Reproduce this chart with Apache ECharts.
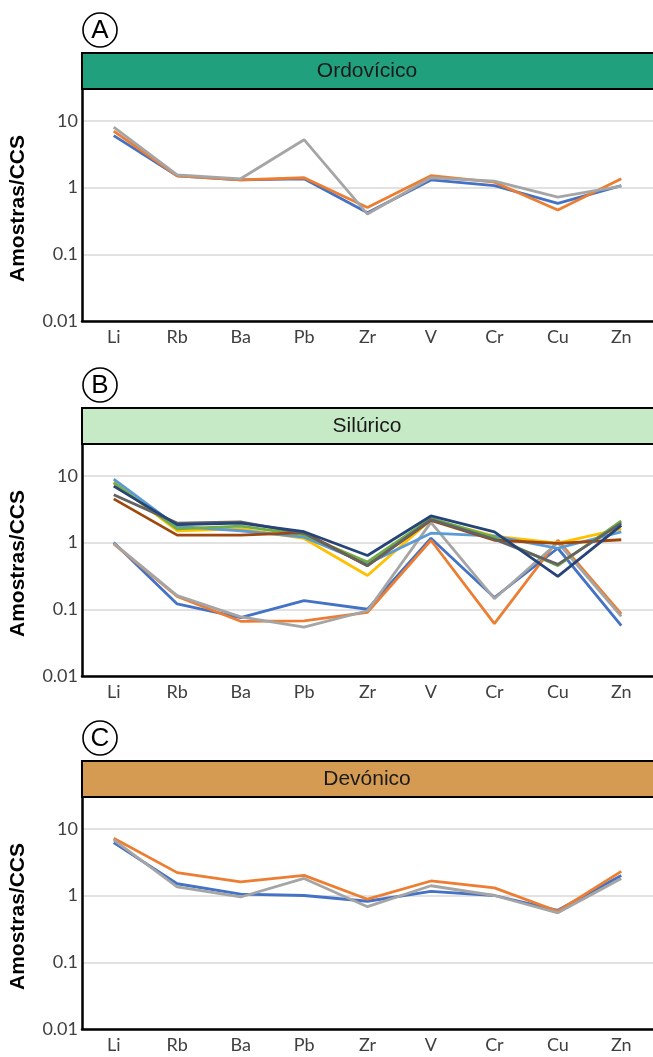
<!DOCTYPE html>
<html>
<head>
<meta charset="utf-8">
<script src="https://cdn.jsdelivr.net/npm/echarts@6/dist/echarts.min.js"></script>
<style>html,body{margin:0;padding:0;background:#fff}#c{width:653px;height:1057px}</style>
</head>
<body>
<div id="c"></div>
<script>
// ---- data ----
const categories = ['Li','Rb','Ba','Pb','Zr','V','Cr','Cu','Zn'];
const yTickLabels = ['0.01','0.1','1','10'];
const panelLetters = ['A','B','C'];
const panelTitles = ['Ordovícico','Silúrico','Devónico'];
const yTitle = 'Amostras/CCS';

// Ordovícico
const ordBlue   = [6.0, 1.5, 1.3, 1.35, 0.42, 1.3, 1.07, 0.58, 1.07];
const ordOrange = [7.0, 1.5, 1.3, 1.4, 0.5, 1.5, 1.2, 0.46, 1.35];
const ordGrey   = [8.0, 1.55, 1.35, 5.2, 0.4, 1.4, 1.25, 0.72, 1.05];

// Silúrico
const silBlue      = [1.0, 0.12, 0.075, 0.135, 0.1, 1.16, 0.15, 0.82, 0.057];
const silOrange    = [0.95, 0.155, 0.066, 0.067, 0.09, 1.08, 0.061, 1.08, 0.085];
const silGrey      = [0.97, 0.16, 0.077, 0.054, 0.095, 2.0, 0.144, 1.0, 0.078];
const silGold      = [8.0, 1.5, 1.6, 1.15, 0.32, 2.2, 1.25, 0.98, 1.6];
const silLightBlue = [8.9, 1.75, 1.5, 1.2, 0.48, 1.38, 1.25, 0.82, 1.44];
const silGreen     = [7.8, 1.6, 1.76, 1.3, 0.51, 2.3, 1.2, 0.45, 2.1];
const silNavy      = [7.0, 1.85, 1.95, 1.45, 0.64, 2.5, 1.44, 0.31, 1.8];
const silBrown     = [4.5, 1.29, 1.29, 1.41, 0.45, 2.15, 1.08, 0.97, 1.1];
const silDarkGrey  = [5.2, 1.95, 2.04, 1.37, 0.45, 2.2, 1.12, 0.47, 1.95];

// Devónico
const devBlue   = [6.2, 1.5, 1.05, 1.0, 0.82, 1.15, 1.0, 0.6, 2.0];
const devOrange = [7.2, 2.2, 1.6, 2.0, 0.88, 1.65, 1.3, 0.58, 2.3];
const devGrey   = [6.8, 1.35, 0.95, 1.8, 0.68, 1.4, 1.0, 0.55, 1.8];

// ---- styling ----
const C = {blue:'#4472C4', orange:'#ED7D31', grey:'#A5A5A5', gold:'#FFC000', lightBlue:'#5B9BD5',
           green:'#70AD47', navy:'#264478', brown:'#9E480E', darkGrey:'#636363'};
const headerColors = ['#21A07E','#C6E9C6','#D59B52'];

const panelSeries = [
  [[ordBlue,C.blue],[ordOrange,C.orange],[ordGrey,C.grey]],
  [[silBlue,C.blue],[silOrange,C.orange],[silGrey,C.grey],[silGold,C.gold],[silLightBlue,C.lightBlue],
   [silGreen,C.green],[silBrown,C.brown],[silDarkGrey,C.darkGrey],[silNavy,C.navy]],
  [[devBlue,C.blue],[devOrange,C.orange],[devGrey,C.grey]]
];

const gridTops = [54, 409, 762];
const gridH = 267;
const gridLeft = 82, gridW = 580;
const headerH = 36;

const grids=[], xAxes=[], yAxes=[], series=[], graphics=[];
const labelFont = 'Lato, "Open Sans", sans-serif';

panelSeries.forEach((list, i) => {
  grids.push({left:gridLeft, top:gridTops[i], width:gridW, height:gridH});
  xAxes.push({type:'category', gridIndex:i, data:categories, boundaryGap:true,
    axisLine:{lineStyle:{color:'#000', width:2.5}}, axisTick:{show:false},
    axisLabel:{color:'#404040', fontSize:18, fontFamily:labelFont, margin:7},
    splitLine:{show:false}});
  yAxes.push({type:'log', gridIndex:i, logBase:10, min:0.01, max:100,
    axisLine:{show:true, lineStyle:{color:'#000', width:2.5}}, axisTick:{show:false},
    axisLabel:{color:'#404040', fontSize:18, fontFamily:labelFont, margin:4,
      formatter: v => { const k = Math.round(Math.log10(v)) + 2; return yTickLabels[k] || ''; }},
    splitLine:{show:true, lineStyle:{color:'#D9D9D9', width:1.5}},
    minorTick:{show:false}});
  list.forEach(([arr,color]) => {
    series.push({type:'line', xAxisIndex:i, yAxisIndex:i, data:arr, symbol:'none',
      lineStyle:{color, width:2.8}, itemStyle:{color}, silent:true, animation:false});
  });
  const top = gridTops[i];
  // header band
  graphics.push({type:'rect', z:100, shape:{x:gridLeft, y:top-1, width:gridW+20, height:headerH},
    style:{fill:headerColors[i], stroke:'#000', lineWidth:2}});
  graphics.push({type:'text', z:101, x:367, y:top-1+headerH/2,
    style:{text:panelTitles[i], fill:'#1a1a1a', font:'21px "Liberation Sans", Arial, sans-serif',
      align:'center', verticalAlign:'middle'}});
  // circled letter
  graphics.push({type:'circle', z:100, shape:{cx:100, cy:top-24, r:17},
    style:{fill:'#fff', stroke:'#000', lineWidth:1.6}});
  graphics.push({type:'text', z:101, x:100, y:top-23,
    style:{text:panelLetters[i], fill:'#000', font:'26px "Liberation Sans", Arial, sans-serif',
      align:'center', verticalAlign:'middle'}});
  // y title
  graphics.push({type:'text', z:101, x:18, y:top + headerH + (gridH-headerH)/2 + 3, rotation:Math.PI/2,
    style:{text:yTitle, fill:'#000', font:'bold 21px "Liberation Sans", Arial, sans-serif',
      align:'center', verticalAlign:'middle'}});
});

const chart = echarts.init(document.getElementById('c'), null, {renderer:'canvas'});
chart.setOption({
  animation:false,
  grid:grids, xAxis:xAxes, yAxis:yAxes, series:series, graphic:graphics
});
</script>
</body>
</html>
